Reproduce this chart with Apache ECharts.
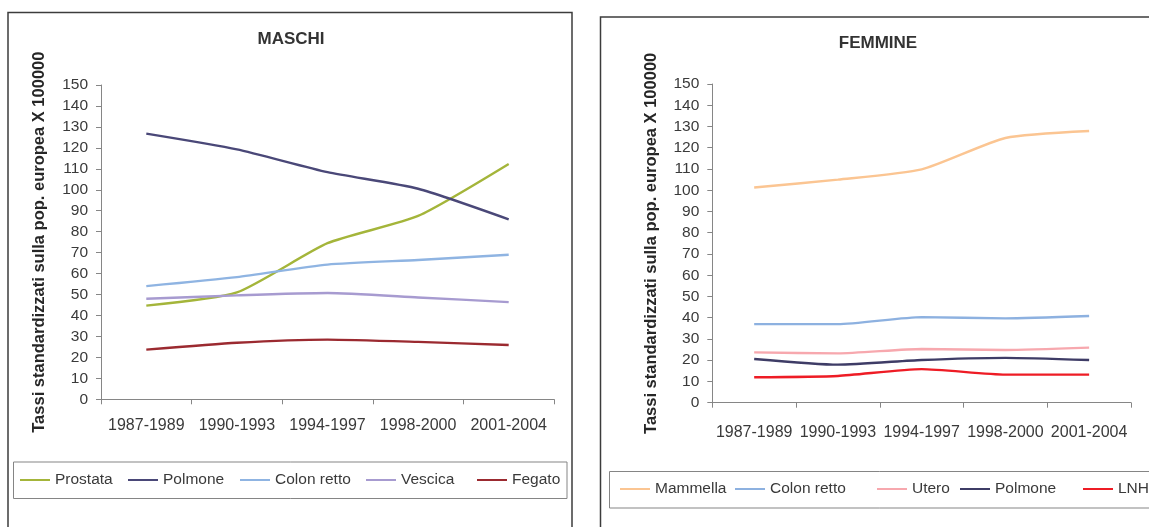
<!DOCTYPE html>
<html>
<head>
<meta charset="utf-8">
<script src="https://cdn.jsdelivr.net/npm/echarts@6/dist/echarts.min.js"></script>
<style>
html,body{margin:0;padding:0;background:#fff;}
#c{width:1149px;height:527px;}
</style>
</head>
<body>
<div id="c"></div>
<script>
// ---- data ----
const categories = ['1987-1989', '1990-1993', '1994-1997', '1998-2000', '2001-2004'];
const yTicksMax = 150;
const yTicksStep = 10;
const axisName = 'Tassi standardizzati sulla pop. europea X 100000';
const titleM = 'MASCHI';
const titleF = 'FEMMINE';

const mNames = ['Prostata', 'Polmone', 'Colon retto', 'Vescica', 'Fegato'];
const mProstata = [44.7, 51.0, 74.5, 87.5, 112.3];
const mPolmone = [126.8, 119.3, 108.4, 100.5, 85.9];
const mColon = [54.0, 58.3, 64.3, 66.5, 69.0];
const mVescica = [48.0, 49.6, 50.7, 48.6, 46.4];
const mFegato = [23.7, 27.0, 28.5, 27.4, 25.9];

const fNames = ['Mammella', 'Colon retto', 'Utero', 'Polmone', 'LNH'];
const fMammella = [101.3, 105.0, 109.8, 124.6, 127.9];
const fColon = [37.0, 37.0, 40.3, 39.7, 40.8];
const fUtero = [23.7, 23.2, 25.3, 24.8, 25.9];
const fPolmone = [20.6, 17.9, 20.1, 21.1, 20.1];
const fLNH = [12.0, 12.6, 15.8, 13.2, 13.2];

// ---- styles ----
const mColors = ['#A4B53A', '#4A4878', '#8FB4E2', '#A79BD0', '#9B2A30'];
const fColors = ['#FBC592', '#8DB1E0', '#F7A8AE', '#3E3C66', '#EE1C25'];
const mLegendX = [20, 128, 240, 366, 477];
const fLegendX = [620, 735, 877, 960, 1083];

const mData = [mProstata, mPolmone, mColon, mVescica, mFegato];
const fData = [fMammella, fColon, fUtero, fPolmone, fLNH];

const font = 'Liberation Sans, Arial, sans-serif';
const txt = '#3a3a3a';
const axisCol = '#868686';

function xAx(gi, margin) {
  return {
    type: 'category', gridIndex: gi, data: categories, boundaryGap: true,
    axisLine: {lineStyle: {color: axisCol, width: 1}},
    axisTick: {show: true, length: 5, interval: 0, lineStyle: {color: axisCol}},
    axisLabel: {interval: 0, margin: margin, color: txt, fontSize: 16, fontFamily: font},
    splitLine: {show: false}
  };
}
function yAx(gi, gap) {
  return {
    type: 'value', gridIndex: gi, min: 0, max: yTicksMax, interval: yTicksStep,
    name: axisName, nameLocation: 'middle', nameRotate: 90, nameGap: gap,
    nameTextStyle: {fontSize: 16.5, fontWeight: 'bold', color: '#262626', fontFamily: font},
    axisLine: {show: true, lineStyle: {color: axisCol, width: 1}},
    axisTick: {show: true, length: 5, lineStyle: {color: axisCol}},
    axisLabel: {margin: 13, color: txt, fontSize: 15.5, fontFamily: font},
    splitLine: {show: false}
  };
}

const series = [];
mNames.forEach((n, i) => series.push({
  name: n, type: 'line', xAxisIndex: 0, yAxisIndex: 0, data: mData[i],
  symbol: 'none', smooth: 0.2, color: mColors[i],
  lineStyle: {width: 2.4, color: mColors[i]}
}));
fNames.forEach((n, i) => series.push({
  name: n + ' ', type: 'line', xAxisIndex: 1, yAxisIndex: 1, data: fData[i],
  symbol: 'none', smooth: 0.2, color: fColors[i],
  lineStyle: {width: 2.4, color: fColors[i]}
}));

const legends = [];
mNames.forEach((n, i) => legends.push({
  data: [n], left: mLegendX[i], top: 472, icon: 'rect', itemWidth: 30, itemHeight: 2,
  itemGap: 0, itemTextGap: 5, padding: 0, selectedMode: false,
  textStyle: {fontSize: 15.5, color: txt, fontFamily: font}
}));
fNames.forEach((n, i) => legends.push({
  data: [n + ' '], left: fLegendX[i], top: 481, icon: 'rect', itemWidth: 30, itemHeight: 2,
  itemGap: 0, itemTextGap: 5, padding: 0, selectedMode: false,
  formatter: s => s.trim(),
  textStyle: {fontSize: 15.5, color: txt, fontFamily: font}
}));

const chart = echarts.init(document.getElementById('c'), null, {renderer: 'canvas'});
chart.setOption({
  backgroundColor: '#ffffff',
  animation: false,
  title: [
    {text: titleM, left: 291, top: 31, textAlign: 'center', padding: 0,
     textStyle: {fontSize: 17, fontWeight: 'bold', color: '#333', fontFamily: font}},
    {text: titleF, left: 878, top: 35, textAlign: 'center', padding: 0,
     textStyle: {fontSize: 17, fontWeight: 'bold', color: '#333', fontFamily: font}}
  ],
  legend: legends,
  grid: [
    {left: 101, right: 595, top: 85, bottom: 127.7, containLabel: false},
    {left: 712.3, right: 18, top: 84, bottom: 124.3, containLabel: false}
  ],
  xAxis: [xAx(0, 18), xAx(1, 22)],
  yAxis: [yAx(0, 53), yAx(1, 52)],
  series: series,
  graphic: [
    {type: 'rect', silent: true, z: -1, shape: {x: 8, y: 12.5, width: 564, height: 600},
     style: {fill: 'none', stroke: '#3c3c3c', lineWidth: 1.5}},
    {type: 'rect', silent: true, z: -1, shape: {x: 600.5, y: 17, width: 600, height: 600},
     style: {fill: 'none', stroke: '#3c3c3c', lineWidth: 1.5}},
    {type: 'rect', silent: true, z: -1, shape: {x: 13.5, y: 462, width: 553.5, height: 36.5},
     style: {fill: 'none', stroke: '#858585', lineWidth: 1}},
    {type: 'rect', silent: true, z: -1, shape: {x: 609.5, y: 471.5, width: 600, height: 36.5},
     style: {fill: 'none', stroke: '#858585', lineWidth: 1}}
  ]
});
</script>
</body>
</html>
